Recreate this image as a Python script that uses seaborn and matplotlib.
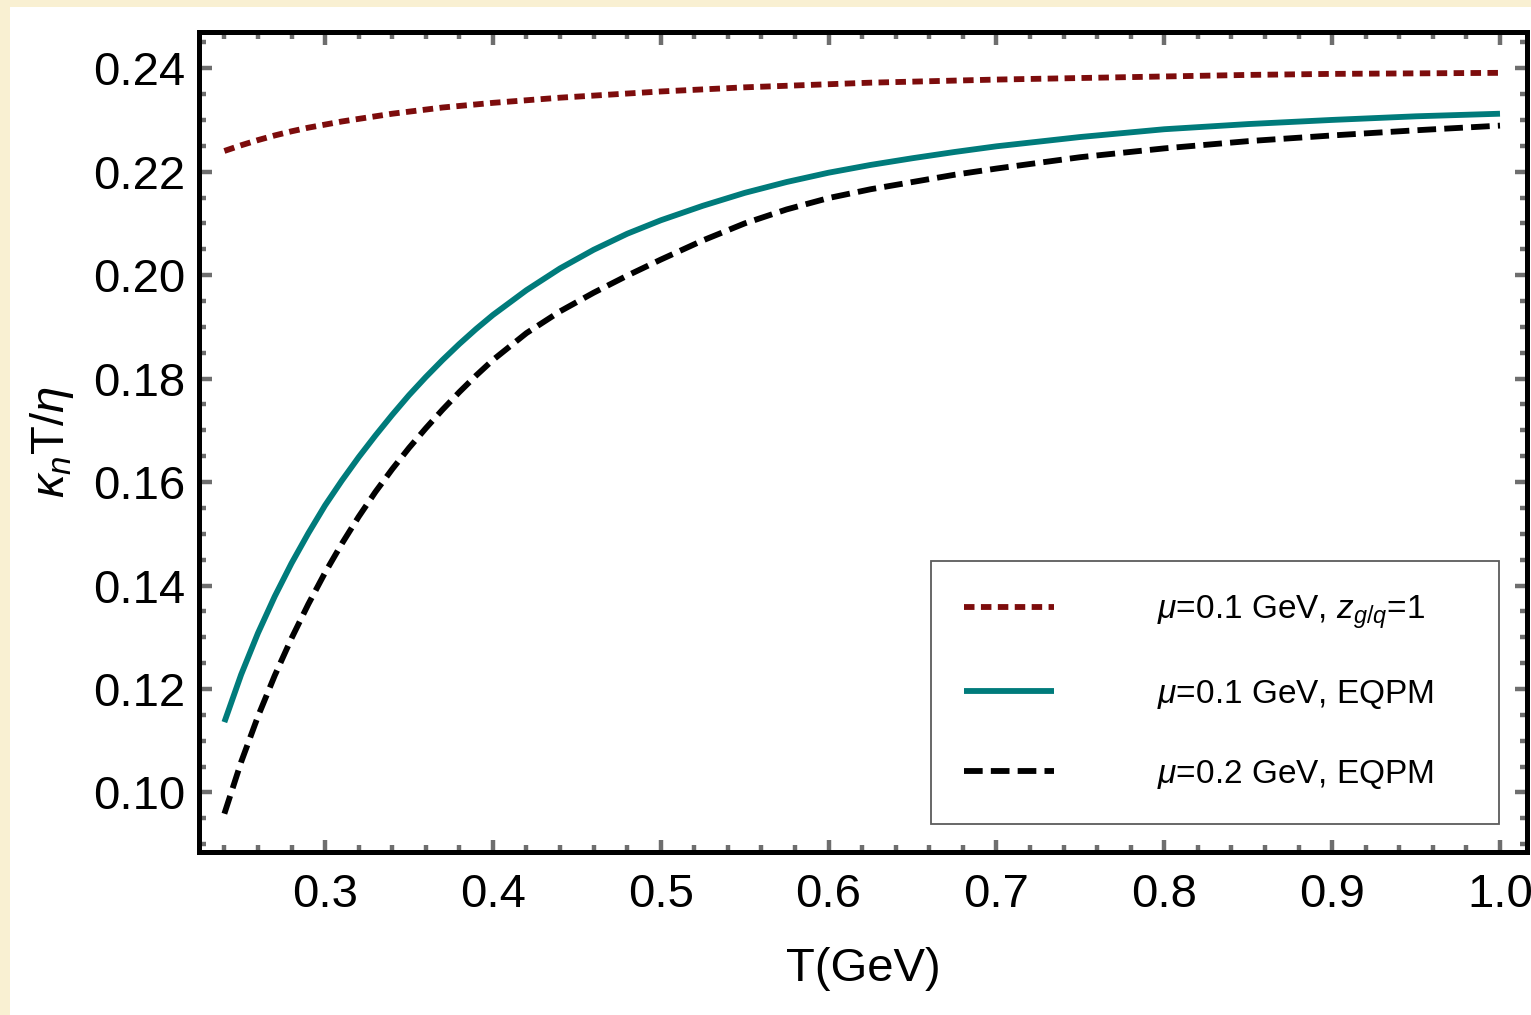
import matplotlib
matplotlib.use("Agg")
import matplotlib.pyplot as plt
from matplotlib.patches import Rectangle
from matplotlib.ticker import MultipleLocator, FormatStrFormatter
import seaborn as sns

# temperature grid (GeV)
T = [0.24, 0.25, 0.26, 0.27, 0.28, 0.29, 0.30, 0.31, 0.32, 0.33, 0.34, 0.35, 0.36,
     0.37, 0.38, 0.39, 0.40, 0.42, 0.44, 0.46, 0.48, 0.50, 0.525, 0.55, 0.575, 0.60,
     0.625, 0.65, 0.675, 0.70, 0.75, 0.80, 0.85, 0.90, 0.95, 1.00]

# kappa_n T / eta
ideal_mu01 = [0.2240, 0.2251, 0.2261, 0.2270, 0.2278, 0.2285, 0.2291, 0.2297, 0.2302,
              0.2307, 0.2312, 0.2316, 0.2320, 0.2324, 0.2327, 0.2330, 0.2333, 0.2338,
              0.2343, 0.2347, 0.2351, 0.2355, 0.2359, 0.2363, 0.2366, 0.2369, 0.2372,
              0.2374, 0.2376, 0.2378, 0.2381, 0.2384, 0.2387, 0.2389, 0.2390, 0.2391]
eqpm_mu01 = [0.1136, 0.1228, 0.1308, 0.1379, 0.1443, 0.1501, 0.1555, 0.1603, 0.1648,
             0.1690, 0.1730, 0.1768, 0.1803, 0.1836, 0.1867, 0.1896, 0.1923, 0.1971,
             0.2013, 0.2049, 0.2080, 0.2106, 0.2134, 0.2159, 0.2180, 0.2198, 0.2213,
             0.2226, 0.2238, 0.2249, 0.2267, 0.2282, 0.2292, 0.2300, 0.2307, 0.2312]
eqpm_mu02 = [0.0959, 0.1059, 0.1147, 0.1226, 0.1298, 0.1364, 0.1425, 0.1481, 0.1533,
             0.1581, 0.1625, 0.1666, 0.1704, 0.1740, 0.1774, 0.1806, 0.1836, 0.1888,
             0.1930, 0.1966, 0.1999, 0.2030, 0.2067, 0.2100, 0.2127, 0.2149, 0.2166,
             0.2180, 0.2194, 0.2206, 0.2228, 0.2245, 0.2259, 0.2270, 0.2280, 0.2289]

labels = [r"$\mu$=0.1 GeV, $z_{g/q}$=1",
          r"$\mu$=0.1 GeV, EQPM",
          r"$\mu$=0.2 GeV, EQPM"]

sns.set_theme(style="ticks")
plt.rcParams["font.family"] = ["Liberation Sans", "DejaVu Sans"]
plt.rcParams["mathtext.fontset"] = "custom"
plt.rcParams["mathtext.rm"] = "Liberation Sans"
plt.rcParams["mathtext.it"] = "Liberation Sans:italic"
plt.rcParams["text.color"] = "black"
plt.rcParams["axes.labelcolor"] = "black"
plt.rcParams["xtick.labelcolor"] = "black"
plt.rcParams["ytick.labelcolor"] = "black"

fig = plt.figure(figsize=(15.31, 10.15), dpi=100)
fig.patch.set_facecolor("#f9f0d2")
# white page, with a thin strip of the paper background left and top
fig.add_artist(Rectangle((10 / 1531, 0), 1, 1 - 7 / 1015, transform=fig.transFigure,
                         facecolor="white", edgecolor="none", zorder=-10))
ax = fig.add_axes([0.1300, 0.1606, 0.8674, 0.8079])
ax.set_facecolor("white")

sns.lineplot(x=T, y=ideal_mu01, ax=ax, color="#7d0c0c", label=labels[0])
sns.lineplot(x=T, y=eqpm_mu01, ax=ax, color="#007b7b", label=labels[1])
sns.lineplot(x=T, y=eqpm_mu02, ax=ax, color="black", label=labels[2])

styles = [(0, (1.8, 1.1)), "solid", (0, (3.2, 1.4))]
for line, ls in zip(ax.lines, styles):
    line.set_linewidth(4.2)
    line.set_linestyle(ls)
    line.set_dash_capstyle("butt")
    line.set_solid_capstyle("butt")

ax.set_xlim(0.2249, 1.0161)
ax.set_ylim(0.0885, 0.2470)
ax.xaxis.set_major_locator(MultipleLocator(0.1))
ax.xaxis.set_minor_locator(MultipleLocator(0.02))
ax.yaxis.set_major_locator(MultipleLocator(0.02))
ax.yaxis.set_minor_locator(MultipleLocator(0.005))
ax.xaxis.set_major_formatter(FormatStrFormatter("%.1f"))
ax.yaxis.set_major_formatter(FormatStrFormatter("%.2f"))

ax.tick_params(which="both", direction="in", top=True, right=True, color="#6e6e6e")
ax.tick_params(which="major", length=9, width=3.2, labelsize=34)
ax.tick_params(which="minor", length=5, width=3.2)
ax.tick_params(axis="x", which="major", pad=15)
ax.tick_params(axis="y", which="major", pad=10)
for s in ax.spines.values():
    s.set_linewidth(3.6)
    s.set_color("black")

ax.set_xlabel("T(GeV)", fontsize=34, labelpad=22)
ax.set_ylabel(r"$\kappa_n$T/$\eta$", fontsize=34, labelpad=12)

leg = ax.legend(loc="lower left", bbox_to_anchor=(0.551, 0.034, 0.428, 0.32),
                mode="expand", borderaxespad=0, fontsize=24, frameon=True,
                fancybox=False, handlelength=2.7, handletextpad=3.1, borderpad=1.0,
                labelspacing=1.4)
leg.get_frame().set_edgecolor("#333333")
leg.get_frame().set_linewidth(1.3)
for h in leg.get_lines():
    h.set_linewidth(4.2)

fig.savefig("out.png", dpi=100, facecolor=fig.get_facecolor())
